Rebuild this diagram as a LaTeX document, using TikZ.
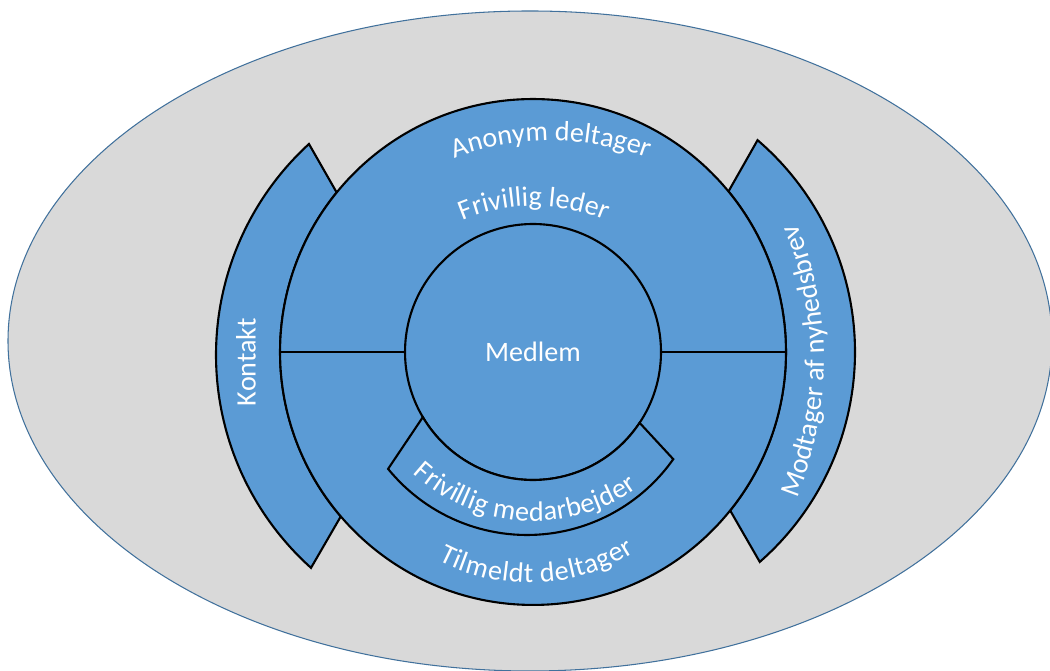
\documentclass[tikz,border=0pt]{standalone}
\usepackage{fontspec}
\setmainfont{Carlito}
\usepackage{xcolor}
\usetikzlibrary{shapes, calc, decorations.text}

\definecolor{ringblue}{HTML}{5B9BD5}
\definecolor{backgray}{HTML}{D9D9D9}
\definecolor{rimblue}{HTML}{41719C}
\newcommand{\ringfont}{\color{white}\fontsize{16}{19}\selectfont}

\begin{document}
\begin{tikzpicture}[x=0.02cm, y=0.02cm,
        backdrop/.style={fill=backgray, draw=rimblue, line width=0.6pt},
        part/.style={fill=ringblue, draw=black, line width=1.2pt},
        ring/.style={part, circle, inner sep=0pt, outer sep=0pt},
        lbltext/.style={text=white, font=\fontsize{16}{19}\selectfont},
        arctext/.style={decorate, decoration={text along path, text align=center, text={|\ringfont|#1}}}]
        \useasboundingbox (0,0) rectangle (1050,671);
        \clip (0,0) rectangle (1050,671);

        \coordinate (ctr) at (533,319);
        \coordinate (kontaktc) at (502,316);
        \coordinate (nyhedc) at (576,319);
        \coordinate (medarbc) at (527,315);

        \draw[backdrop] (530,330) ellipse [x radius=522, y radius=330];

        \draw[part] ($(kontaktc)+(132.45:286)$) arc[start angle=132.45, end angle=228.1, radius=286]
            -- ($(ctr)+(220.55:253)$) arc[start angle=220.55, end angle=140.9, radius=253] -- cycle;
        \draw[part] ($(nyhedc)+(49.4:279)$) arc[start angle=49.4, end angle=-48.8, radius=279]
            -- ($(ctr)+(-38.8:253)$) arc[start angle=-38.8, end angle=39.4, radius=253] -- cycle;

        \node[ring, minimum size=10.12cm] (deltager) at (ctr) {};
        \node[ring, lbltext, minimum size=5.12cm] (medlem) at (ctr) {Medlem};

        \draw[line width=1.2pt] (deltager.west) -- (medlem.west);
        \draw[line width=1.2pt] (medlem.east) -- (deltager.east);

        \draw[part] ($(ctr)+(210.6:128)$) -- ($(medarbc)+(219.1:179)$) arc[start angle=219.1, end angle=324.8, radius=179]
            -- ($(ctr)+(326.4:128)$) arc[start angle=326.4, end angle=210.6, radius=128] -- cycle;

        \node[lbltext, rotate=90] (kontakt) at (246,309) {Kontakt};

        \path[arctext={Anonym deltager}] ($(551,249)+(120:281)$) arc[start angle=120, end angle=60, radius=281];
        \path[arctext={Frivillig leder}] ($(534,282)+(120:183)$) arc[start angle=120, end angle=60, radius=183];
        \path[arctext={Frivillig medarbejder}, decoration={raise=-3.4pt}] ($(534,328)+(206:172)$) arc[start angle=206, end angle=326.8, radius=172];
        \path[arctext={Tilmeldt deltager}, decoration={raise=-6.2pt}] ($(529,284)+(227.5:185)$) arc[start angle=227.5, end angle=317.5, radius=185];
        \path[arctext={Modtager af nyhedsbrev}] ($(459,310)+(-30:365)$) arc[start angle=-30, end angle=30, radius=365];
    \end{tikzpicture}
\end{document}
